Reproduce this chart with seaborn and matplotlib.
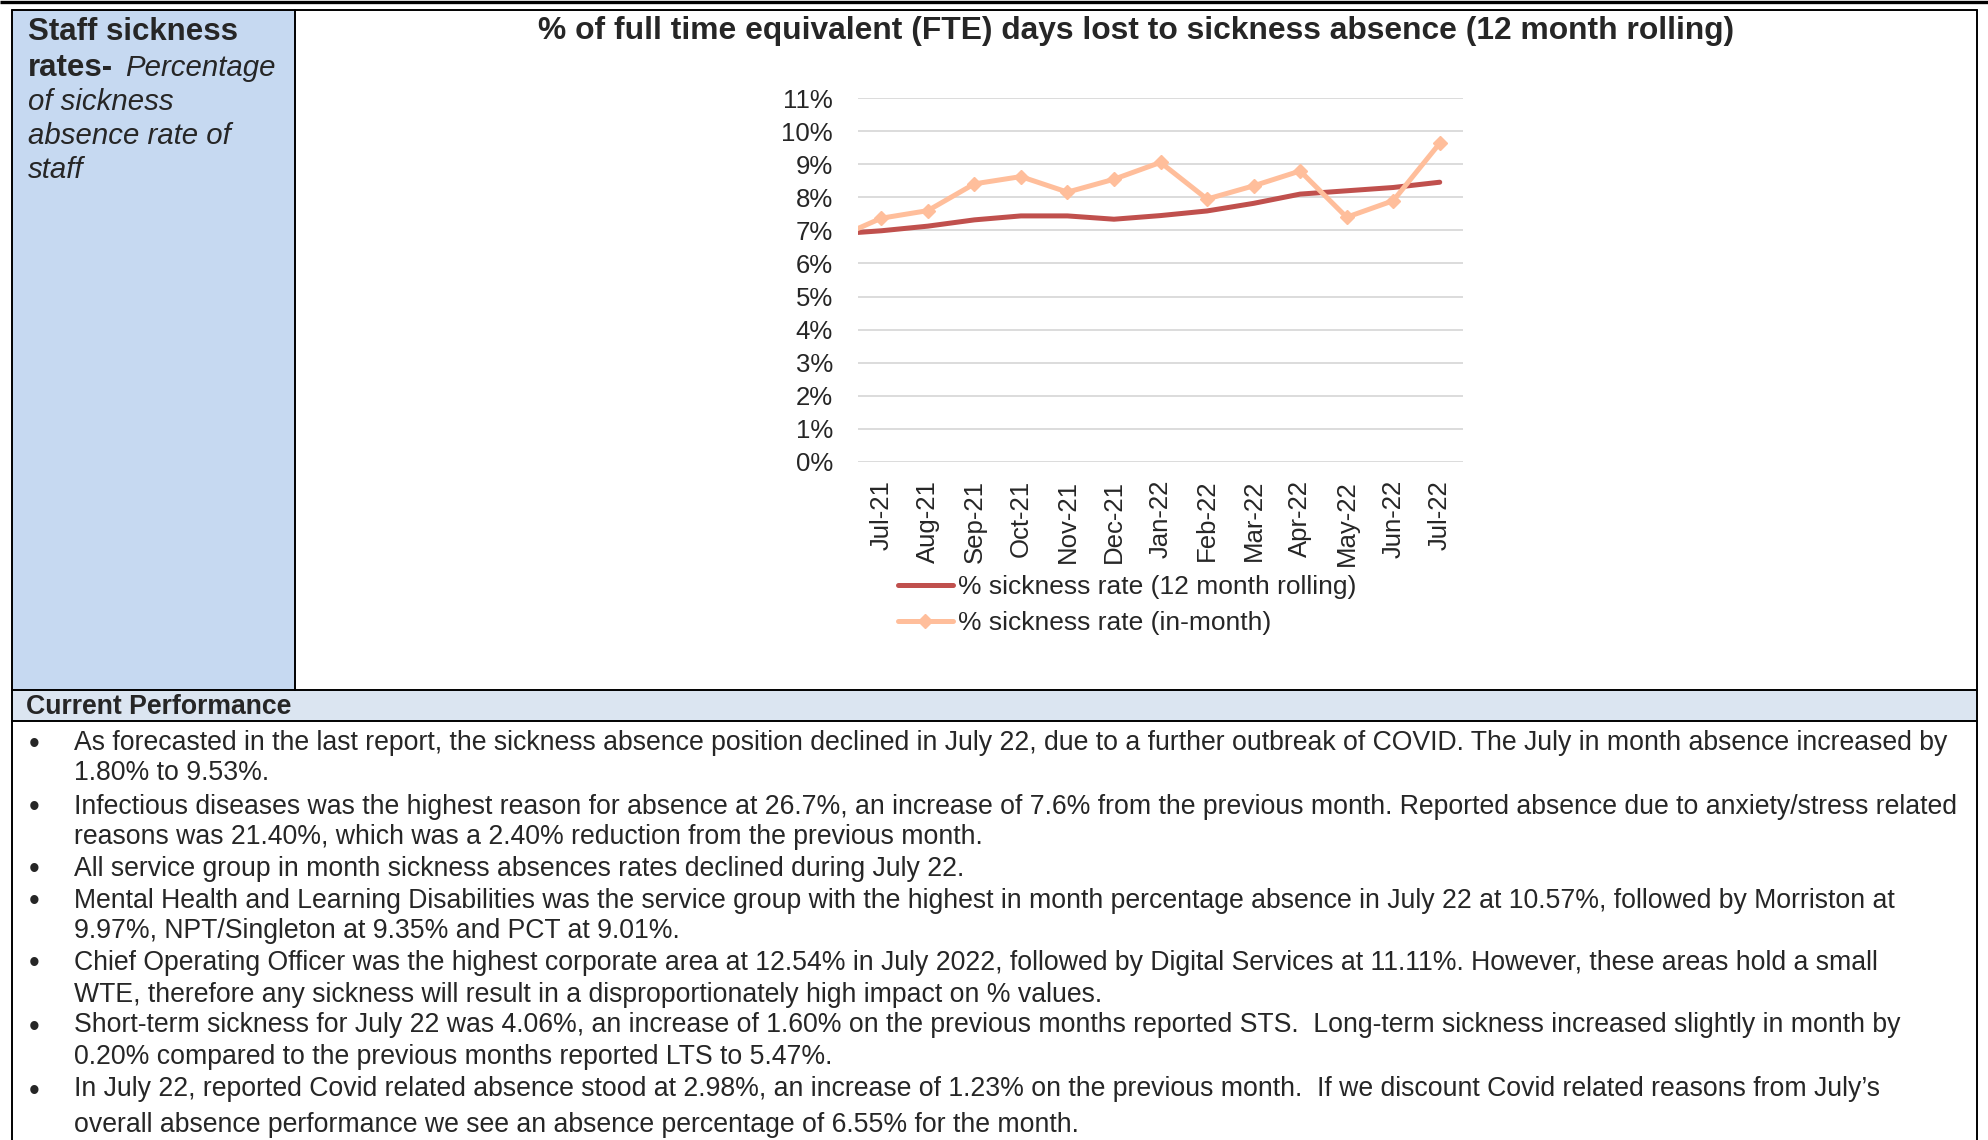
import numpy as np
import pandas as pd
import matplotlib
matplotlib.use("Agg")
import matplotlib.pyplot as plt
import seaborn as sns
from matplotlib.patches import Rectangle
from matplotlib.ticker import FuncFormatter

# ---------------- data ----------------
months = ["Jul-21", "Aug-21", "Sep-21", "Oct-21", "Nov-21", "Dec-21", "Jan-22",
          "Feb-22", "Mar-22", "Apr-22", "May-22", "Jun-22", "Jul-22"]
lead_month = "Jun-21"          # preceding point, only partly visible at the left edge
rolling_lead = 6.89
inmonth_lead = 6.75
rolling_12m = [6.99, 7.13, 7.32, 7.44, 7.44, 7.34, 7.45, 7.59, 7.82, 8.10, 8.20, 8.30, 8.46]
in_month = [7.37, 7.60, 8.41, 8.63, 8.16, 8.55, 9.06, 7.95, 8.35, 8.80, 7.40, 7.90, 9.64]
y_ticks = list(range(0, 12))
series_names = ["% sickness rate (12 month rolling)", "% sickness rate (in-month)"]

chart_title = "% of full time equivalent (FTE) days lost to sickness absence (12 month rolling)"
side_bold = ["Staff sickness", "rates-"]
side_italic = ["Percentage", "of sickness", "absence rate of", "staff"]
section_title = "Current Performance"
bullets = [
    ["As forecasted in the last report, the sickness absence position declined in July 22, due to a further outbreak of COVID. The July in month absence increased by",
     "1.80% to 9.53%."],
    ["Infectious diseases was the highest reason for absence at 26.7%, an increase of 7.6% from the previous month. Reported absence due to anxiety/stress related",
     "reasons was 21.40%, which was a 2.40% reduction from the previous month."],
    ["All service group in month sickness absences rates declined during July 22."],
    ["Mental Health and Learning Disabilities was the service group with the highest in month percentage absence in July 22 at 10.57%, followed by Morriston at",
     "9.97%, NPT/Singleton at 9.35% and PCT at 9.01%."],
    ["Chief Operating Officer was the highest corporate area at 12.54% in July 2022, followed by Digital Services at 11.11%. However, these areas hold a small",
     "WTE, therefore any sickness will result in a disproportionately high impact on % values."],
    ["Short-term sickness for July 22 was 4.06%, an increase of 1.60% on the previous months reported STS.  Long-term sickness increased slightly in month by",
     "0.20% compared to the previous months reported LTS to 5.47%."],
    ["In July 22, reported Covid related absence stood at 2.98%, an increase of 1.23% on the previous month.  If we discount Covid related reasons from July\u2019s",
     "overall absence performance we see an absence percentage of 6.55% for the month."],
]

# ---------------- style ----------------
sns.set_style("white")
plt.rcParams["font.family"] = ["Liberation Sans", "DejaVu Sans"]
RED = "#C0504D"
PEACH = "#FFBE9B"
GRID = "#D9D9D9"
BLUE_CELL = "#C6D9F1"
BLUE_HEAD = "#DBE5F1"

W, H = 1988, 1140
fig = plt.figure(figsize=(W / 100, H / 100), dpi=100)

# background / table layout in pixel coordinates
bg = fig.add_axes([0, 0, 1, 1])
bg.set_xlim(0, W)
bg.set_ylim(H, 0)
bg.axis("off")

L, R, T = 12, 1977, 10
DIV_X, HEAD_T, HEAD_B = 295, 690, 721
bg.add_patch(Rectangle((L, T), DIV_X - L, HEAD_T - T, facecolor=BLUE_CELL, edgecolor="none"))
bg.add_patch(Rectangle((L, HEAD_T), R - L, HEAD_B - HEAD_T, facecolor=BLUE_HEAD, edgecolor="none"))
bw = 1.4
bg.plot([0, W], [1.5, 1.5], color="black", lw=2.4, solid_capstyle="butt")
bg.plot([L, R], [T, T], color="black", lw=bw)
bg.plot([L, L], [T, H], color="black", lw=bw)
bg.plot([R, R], [T, H], color="black", lw=bw)
bg.plot([DIV_X, DIV_X], [T, HEAD_T], color="black", lw=bw)
bg.plot([L, R], [HEAD_T, HEAD_T], color="black", lw=bw)
bg.plot([L, R], [HEAD_B, HEAD_B], color="black", lw=bw)

# left cell text
side_fs = 22.5
ital_fs = 21.2
bg.text(28, 40, side_bold[0], fontsize=side_fs, fontweight="bold", va="baseline", ha="left")
bg.text(28, 76, side_bold[1], fontsize=side_fs, fontweight="bold", va="baseline", ha="left")
bg.text(125, 76, side_italic[0], fontsize=ital_fs, fontstyle="italic", va="baseline", ha="left")
for i, s in enumerate(side_italic[1:]):
    bg.text(28, 110 + 34 * i, s, fontsize=ital_fs, fontstyle="italic", va="baseline", ha="left")

# chart title
bg.text(1136, 39, chart_title, fontsize=22.9, fontweight="bold", ha="center", va="baseline")

# section title
bg.text(26, 714, section_title, fontsize=19.2, fontweight="bold", ha="left", va="baseline")

# bullets
body_fs = 19.2
base_ys = [750, 780.5, 813.5, 843.5, 875.5, 907.5, 937.5, 969.5, 1001.5, 1032.5, 1064.5, 1096.5, 1132]
k = 0
for para in bullets:
    bg.text(34, base_ys[k] + 3, "\u2022", fontsize=22, ha="center", va="baseline")
    for line in para:
        bg.text(74, base_ys[k], line, fontsize=body_fs, ha="left", va="baseline")
        k += 1

# ---------------- chart ----------------
ax_l, ax_r, ax_t, ax_b = 858, 1463, 98.3, 461.7
ax = fig.add_axes([ax_l / W, 1 - ax_b / H, (ax_r - ax_l) / W, (ax_b - ax_t) / H])
ax.set_facecolor("none")

pos = np.arange(-1, len(months))
df = pd.DataFrame({
    "pos": np.concatenate([pos, pos]),
    "value": [rolling_lead] + rolling_12m + [inmonth_lead] + in_month,
    "series": [series_names[0]] * len(pos) + [series_names[1]] * len(pos),
})

sns.lineplot(data=df[df.series == series_names[0]], x="pos", y="value", ax=ax,
             color=RED, lw=3.6, label=series_names[0], solid_capstyle="round", zorder=3)
sns.lineplot(data=df[df.series == series_names[1]], x="pos", y="value", ax=ax,
             color=PEACH, lw=3.6, marker="D", markersize=7, markeredgecolor=PEACH,
             markeredgewidth=1, label=series_names[1], solid_capstyle="round", zorder=4)

ax.set_xlim(-0.5, len(months) - 0.5)
ax.set_ylim(0, 11)
ax.set_yticks(y_ticks)
ax.yaxis.set_major_formatter(FuncFormatter(lambda v, p: f"{int(round(v))}%"))
ax.set_xticks(range(len(months)))
ax.set_xticklabels(months, rotation=90)
ax.tick_params(axis="y", length=0, pad=18, labelsize=18.5)
ax.tick_params(axis="x", length=0, pad=13, labelsize=18.5)
ax.grid(axis="y", color=GRID, lw=1.3)
ax.grid(axis="x", visible=False)
for sp in ax.spines.values():
    sp.set_visible(False)
ax.set_xlabel("")
ax.set_ylabel("")

leg = ax.legend(loc="center left", bbox_to_anchor=(898 / W, 1 - 605 / H),
                bbox_transform=fig.transFigure, frameon=False, fontsize=19,
                handlelength=2.08, handletextpad=0.2, labelspacing=0.45,
                borderpad=0, borderaxespad=0)

fig.savefig("out.png", dpi=100)
